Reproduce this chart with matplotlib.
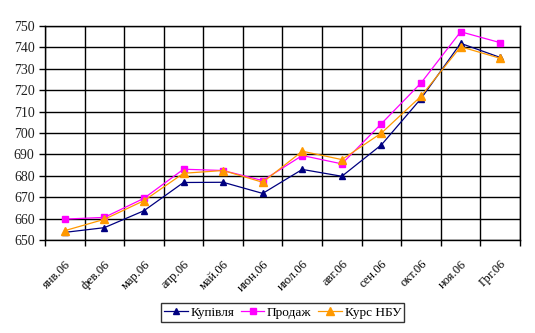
import matplotlib
matplotlib.use("Agg")
import matplotlib.pyplot as plt
import numpy as np

months = ["янв.06", "фев.06", "мар.06", "апр.06", "май.06", "июн.06",
          "июл.06", "авг.06", "сен.06", "окт.06", "ноя.06", "Грг.06"]
kupivlia = [653.6, 655.8, 663.7, 676.9, 677.0, 671.8,
            683.0, 679.8, 694.5, 716.1, 741.9, 735.3]
prodazh = [659.8, 660.6, 669.5, 683.1, 682.5, 677.8,
           689.5, 685.6, 704.4, 723.4, 747.3, 742.2]
kurs_nbu = [654.4, 659.7, 668.4, 681.2, 682.5, 677.0,
            691.5, 687.6, 700.0, 717.2, 740.3, 734.9]

plt.rcParams['font.family'] = ['Liberation Serif', 'DejaVu Serif']

fig = plt.figure(figsize=(5.35, 3.33), dpi=100)
ax = fig.add_axes([0.084, 0.279, 0.888, 0.643])

x = np.arange(len(months))
ax.plot(x, kupivlia, color='#000080', marker='^', markersize=5, lw=0.9, label='Купівля')
ax.plot(x, prodazh, color='#FF00FF', marker='s', markersize=4, lw=0.9, label='Продаж')
ax.plot(x, kurs_nbu, color='#FF9900', marker='^', markersize=6, lw=0.9, label='Курс НБУ')

ax.set_xlim(-0.5, len(months) - 0.5)
ax.set_ylim(650, 750)
ax.set_yticks(np.arange(650, 751, 10))
ax.set_xticks(x)
ax.set_xticklabels(months, rotation=45, ha='right', rotation_mode='anchor', fontsize=9)
ax.set_xticks(np.arange(-0.5, len(months), 1), minor=True)
ax.tick_params(axis='x', which='major', length=0, pad=13)
ax.tick_params(axis='x', which='minor', length=4, width=1, color='black')
ax.tick_params(axis='y', length=4, width=1, labelsize=10, labelcolor='#222222')

ax.grid(True, axis='y', color='black', lw=1)
ax.grid(True, axis='x', which='minor', color='black', lw=1)
for s in ax.spines.values():
    s.set_color('black')
    s.set_linewidth(1)

leg = ax.legend(loc='upper center', bbox_to_anchor=(0.5, -0.295), ncol=3,
                frameon=True, fancybox=False, edgecolor='black', fontsize=9.5,
                handlelength=1.8, columnspacing=0.5, handletextpad=0.2,
                borderpad=0.25, borderaxespad=0)
leg.get_frame().set_linewidth(1)

fig.savefig("out.png", dpi=100)
